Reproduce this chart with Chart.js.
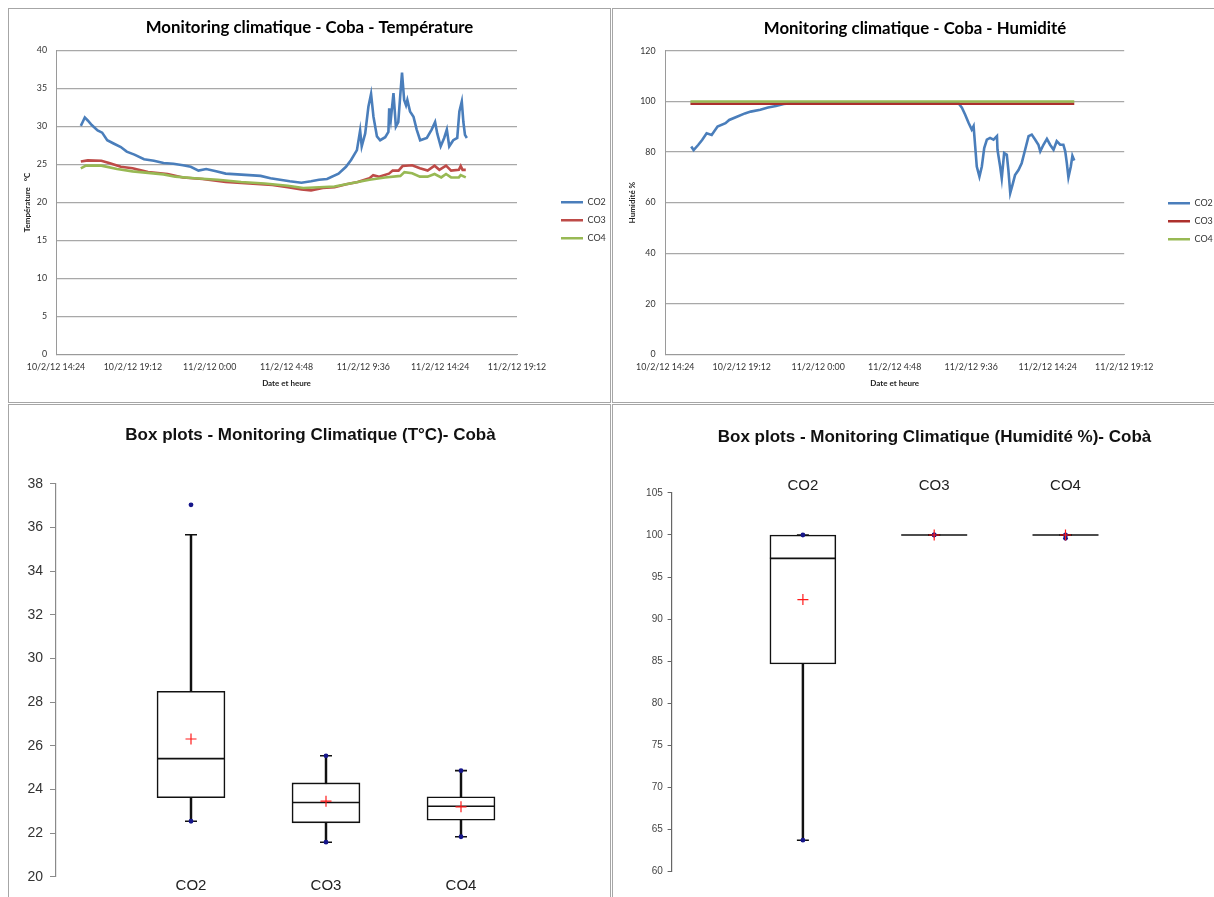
<!DOCTYPE html>
<html><head><meta charset="utf-8">
<script src="https://cdn.jsdelivr.net/npm/chart.js@4.4.1/dist/chart.umd.min.js"></script>
<style>
html,body{margin:0;padding:0;background:#fff;width:1214px;height:897px;overflow:hidden;position:relative;}
.panel{position:absolute;border:1px solid #a6a6a6;background:#fff;box-sizing:border-box;overflow:hidden;}
.panel canvas{position:absolute;left:0;top:0;}
</style></head><body>
<div class="panel" style="left:8px;top:8px;width:603px;height:395px;"><canvas id="c1" width="601" height="393"></canvas></div>
<div class="panel" style="left:612px;top:8px;width:650px;height:395px;"><canvas id="c2" width="604" height="393"></canvas></div>
<div class="panel" style="left:8px;top:404px;width:603px;height:530px;"><canvas id="c3" width="647" height="518" style="left:-22px;"></canvas></div>
<div class="panel" style="left:612px;top:404px;width:690px;height:530px;"><canvas id="c4" width="643" height="518"></canvas></div>
<script>
// ---------- DATA: time in minutes since 10/2/12 00:00 ----------
const tempCO2_t = [957,964,972,983,998,1020,1037,1056,1078,1107,1129,1158,1194,1231,1267,1304,1340,1369,1398,1427,1464,1500,1544,1588,1631,1668,1704,1740,1784,1820,1850,1880,1923,1951,1970,1992,2004,2010,2023,2035,2045,2054,2067,2079,2098,2110,2113,2119,2129,2138,2147,2154,2161,2169,2176,2181,2191,2204,2216,2229,2254,2272,2285,2293,2306,2319,2329,2338,2353,2368,2376,2385,2391,2397,2404];
const tempCO2_v = [30.1,30.6,31.2,30.8,30.2,29.5,29.2,28.2,27.8,27.3,26.7,26.3,25.7,25.5,25.2,25.1,24.9,24.7,24.2,24.4,24.1,23.8,23.7,23.6,23.5,23.2,23.0,22.8,22.6,22.8,23.0,23.1,23.8,24.7,25.6,26.9,29.5,27.4,29.1,32.6,34.3,31.3,28.7,28.2,28.6,29.3,32.4,30.9,34.4,30.0,30.6,33.9,37.1,33.5,32.8,33.5,32.0,31.3,29.6,28.2,28.5,29.6,30.6,29.1,27.4,28.5,29.6,27.4,28.2,28.5,32.0,33.3,30.6,28.9,28.5];
const tempCO3_t = [957,983,1034,1063,1107,1151,1209,1282,1340,1413,1500,1588,1675,1733,1784,1820,1864,1908,1952,1995,2039,2053,2075,2112,2126,2148,2163,2199,2228,2257,2283,2301,2326,2345,2374,2381,2388,2400];
const tempCO3_v = [25.4,25.55,25.5,25.2,24.7,24.5,24.0,23.75,23.3,23.1,22.7,22.5,22.3,22.0,21.7,21.6,21.9,22.0,22.4,22.7,23.2,23.6,23.4,23.8,24.2,24.2,24.8,24.9,24.5,24.2,24.85,24.3,24.85,24.2,24.3,24.8,24.3,24.3];
const tempCO4_t = [957,976,1034,1093,1151,1209,1267,1311,1384,1471,1558,1646,1733,1791,1850,1908,1966,2039,2097,2155,2170,2199,2228,2257,2283,2308,2326,2345,2374,2381,2400];
const tempCO4_v = [24.5,24.85,24.85,24.4,24.1,23.9,23.7,23.4,23.2,23.0,22.7,22.5,22.2,21.9,22.0,22.1,22.5,23.0,23.3,23.5,24.0,23.85,23.4,23.4,23.75,23.3,23.75,23.3,23.3,23.6,23.3];

const humCO2_t = [962,971,988,1003,1020,1039,1061,1091,1105,1134,1164,1186,1222,1251,1281,1310,1339,1383,1966,1981,1993,2006,2018,2025,2031,2037,2047,2056,2065,2075,2087,2100,2113,2115,2125,2131,2140,2150,2156,2163,2173,2181,2194,2206,2219,2232,2244,2257,2269,2276,2288,2301,2313,2326,2338,2351,2363,2370,2376,2382,2391,2397,2404];
const humCO2_v = [82.2,80.8,82.8,84.8,87.4,86.8,90.1,91.4,92.7,94.0,95.3,96.0,96.7,97.6,98.2,99.0,99.3,99.6,99.6,97.6,94.9,91.6,88.9,90.3,82.3,74.3,70.3,74.3,81.6,84.9,85.6,84.9,86.3,80.9,74.3,69.6,79.6,78.9,72.9,63.8,67.6,70.9,72.9,75.6,80.9,86.3,86.9,84.9,82.9,80.3,82.9,85.2,82.9,80.9,84.3,82.9,82.9,80.3,75.6,70.0,74.3,78.5,76.7];
const humCO3_t = [959,2404];
const humCO3_v = [99.1,99.1];
const humCO4_t = [959,2404];
const humCO4_v = [100,100];

const seriesNames = ['CO2','CO3','CO4'];
const timeTickMin = 864, timeTickMax = 2592, timeTickStep = 288;

// box plot statistics
const boxCats = ['CO2','CO3','CO4'];
const tWhiskLo = [22.54,21.58,21.83];
const tQ1      = [23.62,22.47,22.59];
const tMed     = [25.41,23.40,23.23];
const tMean    = [26.31,23.46,23.20];
const tQ3      = [28.50,24.30,23.66];
const tWhiskHi = [35.67,25.54,24.86];
const tMinDot  = [22.54,21.58,21.83];
const tMaxDot  = [37.04,25.54,24.86];

const hWhiskLo = [63.74,100,100];
const hQ1      = [84.67,100,100];
const hMed     = [97.22,100,100];
const hMean    = [92.33,100,100];
const hQ3      = [100,100,100];
const hWhiskHi = [100,100,100];
const hMinDot  = [63.74,100,99.6];
const hMaxDot  = [100,100,100];

// ---------- helpers ----------
const LATO = 'Lato, sans-serif';
const ARIAL = "'Liberation Sans', Arial, sans-serif";
function timeLabel(m){ const d = 10 + Math.floor(m/1440); const r = m % 1440; const h = Math.floor(r/60); const mi = r % 60; return d + '/2/12 ' + h + ':' + String(mi).padStart(2,'0'); }
function pairs(t, v){ return t.map((x,i)=>({x:x, y:v[i]})); }

function legendPlacer(left, top){
  return { id:'legendPlacer', afterLayout(chart){ const lg = chart.legend; if(!lg) return; const w = lg.width; lg.left = left; lg.right = left + w + 200; lg.top = top; lg.bottom = top + 400; } };
}

function lineChart(id, title, yTitle, yMax, yStep, series, g){
  new Chart(document.getElementById(id), {
    type: 'line',
    data: { datasets: series.map(s => ({
      label: s.label, data: pairs(s.t, s.v), borderColor: s.color, backgroundColor: s.color,
      borderWidth: 2.6, pointRadius: 0, tension: 0, order: s.order, fill: false
    })) },
    options: {
      responsive: false, animation: false, events: [], devicePixelRatio: 1,
      layout: { padding: 0 },
      plugins: {
        tooltip: { enabled: false },
        title: { display: true, text: title, color: '#000', font: { family: LATO, size: g.titleSize, weight: 'bold' }, padding: { top: g.titlePadTop, bottom: g.titlePadBottom } },
        legend: { display: true, position: 'right', align: 'start', maxWidth: 50,
          labels: { usePointStyle: true, pointStyle: 'line', pointStyleWidth: 22, boxHeight: 9, padding: 9, color: '#333', font: { family: LATO, size: 9 },
            sort: (a,b) => a.datasetIndex - b.datasetIndex } }
      },
      scales: {
        x: { type: 'linear', min: timeTickMin, max: timeTickMax,
          grid: { display: false, drawTicks: false }, border: { display: true, color: '#9a9a9a', width: 1 },
          ticks: { stepSize: timeTickStep, autoSkip: false, maxRotation: 0, padding: g.xTickPad, color: '#333', font: { family: LATO, size: g.tickSize }, callback: v => timeLabel(v) },
          title: { display: true, text: 'Date et heure', color: '#222', font: { family: LATO, size: 8, weight: 'bold' }, padding: { top: 0, bottom: g.xTitlePadBottom } },
          afterFit: s => { s.height = g.xHeight; } },
        y: { type: 'linear', min: 0, max: yMax,
          grid: { color: '#a8a8a8', lineWidth: 1.3, drawTicks: false }, border: { display: true, color: '#9a9a9a', width: 1 },
          ticks: { stepSize: yStep, padding: g.yTickPad, color: '#333', font: { family: LATO, size: g.tickSize } },
          title: { display: true, text: yTitle, color: '#222', font: { family: LATO, size: 8, weight: 'bold' }, padding: { top: g.yTitlePad, bottom: 0 } },
          afterFit: s => { s.width = g.yWidth; } },
        yR: { position: 'right', display: true, grid: { display: false }, border: { display: false }, ticks: { display: false },
          afterFit: s => { s.width = g.rightW; } }
      }
    },
    plugins: [legendPlacer(g.legendLeft, g.legendTop)]
  });
}

lineChart('c1', 'Monitoring climatique - Coba - Température', 'Température   °C', 40, 5, [
  { label: seriesNames[0], t: tempCO2_t, v: tempCO2_v, color: '#4a7ebb', order: 2 },
  { label: seriesNames[1], t: tempCO3_t, v: tempCO3_v, color: '#be4b48', order: 1 },
  { label: seriesNames[2], t: tempCO4_t, v: tempCO4_v, color: '#98b954', order: 0 }
], { titleSize: 16.8, titlePadTop: 8.1, titlePadBottom: 13.4, xHeight: 47.7, xTickPad: 7.3, xTitlePadBottom: 14.2, yWidth: 47, yTickPad: 9, yTitlePad: 13.4, tickSize: 8.8, rightW: 43, legendLeft: 543, legendTop: 179.8 });

lineChart('c2', 'Monitoring climatique - Coba - Humidité', 'Humidité %', 120, 20, [
  { label: seriesNames[0], t: humCO2_t, v: humCO2_v, color: '#4a7ebb', order: 2 },
  { label: seriesNames[1], t: humCO3_t, v: humCO3_v, color: '#ad302d', order: 1 },
  { label: seriesNames[2], t: humCO4_t, v: humCO4_v, color: '#98b954', order: 0 }
], { titleSize: 16.8, titlePadTop: 9.4, titlePadBottom: 12.4, xHeight: 47.7, xTickPad: 7.8, xTitlePadBottom: 13.9, yWidth: 52.2, yTickPad: 9.7, yTitlePad: 14.4, tickSize: 8.8, rightW: 42.8, legendLeft: 546, legendTop: 180.8 });

function boxChart(id, title, st, g){
  const xy = (arr) => arr.map((v,i) => ({ x: i+1, y: v }));
  const rng = (a,b) => a.map((v,i) => ({ x: i+1, y: [v, b[i]] }));
  new Chart(document.getElementById(id), {
    type: 'bar',
    data: { datasets: [
      { type: 'bar', label: 'whisker', data: rng(st.lo, st.hi), backgroundColor: '#111', borderWidth: 0, barThickness: 1.8, grouped: false, order: 5 },
      { type: 'bar', label: 'box', data: rng(st.q1, st.q3), backgroundColor: '#ffffff', borderColor: '#111', borderWidth: 1.6, borderSkipped: false, barThickness: g.boxW, grouped: false, order: 4 },
      { type: 'line', label: 'median', data: xy(st.med), showLine: false, pointStyle: 'line', pointRadius: g.boxW/2, pointBorderColor: '#111', pointBorderWidth: 1.6, order: 3 },
      { type: 'line', label: 'capHi', data: xy(st.hi), showLine: false, pointStyle: 'line', pointRadius: 6, pointBorderColor: '#111', pointBorderWidth: 1.6, order: 2 },
      { type: 'line', label: 'capLo', data: xy(st.lo), showLine: false, pointStyle: 'line', pointRadius: 6, pointBorderColor: '#111', pointBorderWidth: 1.6, order: 2 },
      { type: 'line', label: 'max', data: xy(st.maxDot), showLine: false, pointStyle: 'circle', pointRadius: 2.4, pointBackgroundColor: '#16168a', pointBorderColor: '#16168a', pointBorderWidth: 0, order: 1 },
      { type: 'line', label: 'min', data: xy(st.minDot), showLine: false, pointStyle: 'circle', pointRadius: 2.4, pointBackgroundColor: '#16168a', pointBorderColor: '#16168a', pointBorderWidth: 0, order: 1 },
      { type: 'line', label: 'mean', data: xy(st.mean), showLine: false, pointStyle: 'cross', pointRadius: 5.5, pointBorderColor: '#ff1a1a', pointBorderWidth: 1.2, order: 0 }
    ] },
    options: {
      responsive: false, animation: false, events: [], devicePixelRatio: 1,
      layout: { padding: { left: 0, right: 0, top: 0, bottom: g.padBottom } },
      plugins: {
        tooltip: { enabled: false }, legend: { display: false },
        title: { display: true, text: title, color: '#111', font: { family: ARIAL, size: 17, weight: 'bold' }, padding: { top: g.titlePadTop, bottom: g.titlePadBottom } }
      },
      scales: {
        x: { type: 'linear', position: g.xPos, min: 0, max: 4, offset: false,
          grid: { display: false, drawTicks: false }, border: { display: false },
          afterBuildTicks: s => { s.ticks = boxCats.map((c,i) => ({ value: i+1 })); },
          ticks: { autoSkip: false, maxRotation: 0, padding: g.xTickPad, color: '#222', font: { family: ARIAL, size: 15 }, callback: v => boxCats[v-1] },
          afterFit: s => { s.height = g.xHeight; } },
        y: { type: 'linear', min: g.yMin, max: g.yMax,
          grid: { drawOnChartArea: false, drawTicks: true, tickLength: g.tickLen, color: g.axisColor }, border: { display: true, color: g.axisColor, width: 1.2 },
          ticks: { stepSize: g.yStep, padding: g.yTickPad, color: g.tickColor, font: { family: ARIAL, size: g.yFont } },
          afterFit: s => { s.width = g.yWidth; } },
        yR: { position: 'right', display: true, grid: { display: false }, border: { display: false }, ticks: { display: false },
          afterFit: s => { s.width = g.rightW; } }
      }
    }
  });
}

boxChart('c3', 'Box plots - Monitoring Climatique (T°C)- Cobà',
  { lo: tWhiskLo, q1: tQ1, med: tMed, mean: tMean, q3: tQ3, hi: tWhiskHi, minDot: tMinDot, maxDot: tMaxDot },
  { boxW: 68, padBottom: 0, titlePadTop: 20, titlePadBottom: 38.5, xPos: 'bottom', xTickPad: 0.6, xHeight: 46.3,
    yMin: 20, yMax: 38, yStep: 2, tickLen: 6, axisColor: '#8a8a8a', yTickPad: 7, tickColor: '#333', yFont: 14, yWidth: 69, rightW: 38 });

boxChart('c4', 'Box plots - Monitoring Climatique (Humidité %)- Cobà',
  { lo: hWhiskLo, q1: hQ1, med: hMed, mean: hMean, q3: hQ3, hi: hWhiskHi, minDot: hMinDot, maxDot: hMaxDot },
  { boxW: 66, padBottom: 51.3, titlePadTop: 22.1, titlePadBottom: 21.4, xPos: 'top', xTickPad: -2, xHeight: 24,
    yMin: 60, yMax: 105, yStep: 5, tickLen: 4, axisColor: '#666', yTickPad: 4.8, tickColor: '#444', yFont: 10, yWidth: 58.6, rightW: 59.2 });
</script>
</body></html>
